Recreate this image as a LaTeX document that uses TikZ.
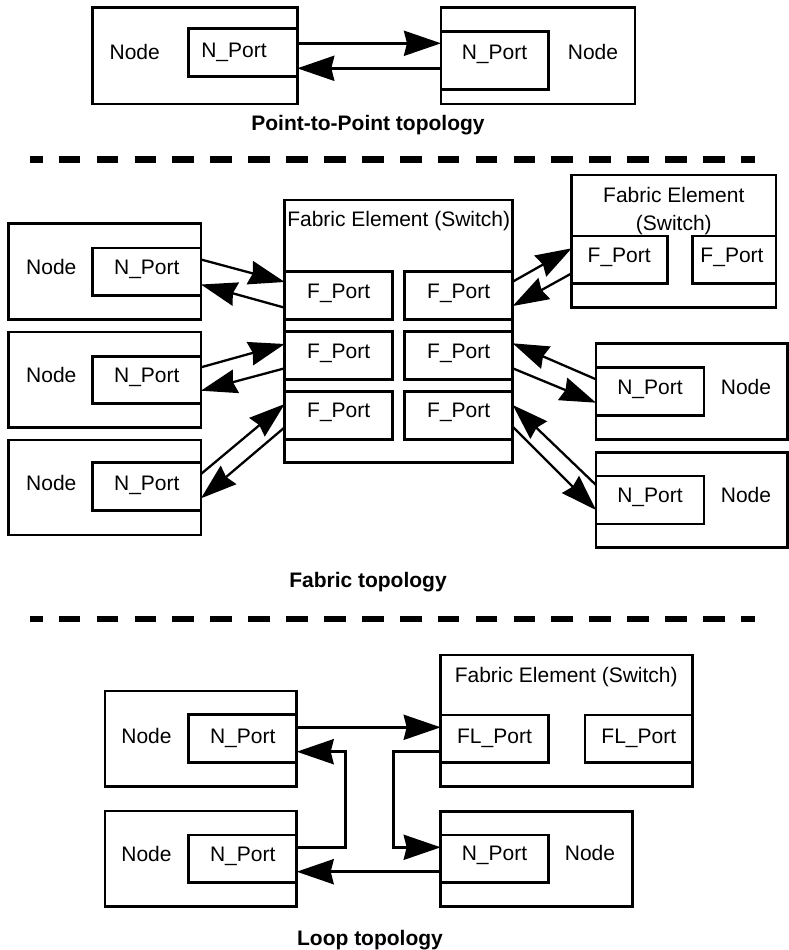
\documentclass[tikz,border=0pt]{standalone}
\usepackage{fontspec}
\setmainfont{Liberation Sans}
\usetikzlibrary{arrows.meta}
\newcommand{\bbox}[5]{\node[box, minimum width={#4-#2}, minimum height={#5-#3}] (#1) at ({(#2+#4)/2},{(#3+#5)/2}) {};}
\begin{document}
\begin{tikzpicture}[x=1pt,y=-1pt,
  box/.style={draw,line width=2.6pt,inner sep=0pt,outer sep=0pt},
  lbl/.style={inner sep=0pt,font=\fontsize{21}{25}\selectfont,text height=15pt,text depth=0pt},
  ttl/.style={inner sep=0pt,font=\fontsize{21}{25}\selectfont\bfseries,text height=15pt,text depth=0pt},
  thinarr/.style={line width=2.3pt,-{Stealth[length=36pt,width=24pt,inset=3pt]}},
  arr/.style={line width=3pt,line join=miter,-{Stealth[length=37pt,width=25pt,inset=3pt]}},
  sep/.style={line width=6.7pt,dash pattern=on 21.7pt off 16.2pt,dash phase=9.2pt}
]
\useasboundingbox (0,0) rectangle (789,950);

% ---------- Point-to-Point ----------
\bbox{ln}{92.3}{7.3}{297.3}{104}
\bbox{lnp}{188.7}{28.7}{297.3}{76.7}
\bbox{rn}{441}{7.3}{635}{104}
\bbox{rnp}{441}{31.7}{548.3}{89.3}
\node[lbl] (t1) at (134.7,52) {Node};
\node[lbl] (t2) at (234,50) {N\_Port};
\node[lbl] (t3) at (494.5,52) {N\_Port};
\node[lbl] (t4) at (593,52) {Node};
\draw[arr] (lnp.east |- 0,43.3) -- (rnp.west |- 0,43.3);
\draw[arr] (rnp.west |- 0,68.3) -- (lnp.east |- 0,68.3);
\node[ttl] (p2p) at (368,122.7) {Point-to-Point topology};
\coordinate (d1a) at (30,159.5);
\coordinate (d1b) at (755,159.5);
\draw[sep] (d1a) -- (d1b);

% ---------- Fabric ----------
\bbox{sw}{284.7}{200}{512.7}{462.7}
\node[lbl] (swt) at (398.7,219.3) {Fabric Element (Switch)};
\bbox{fpa}{284.7}{271.7}{392.7}{319.3}
\bbox{fpb}{404.7}{271.7}{512.7}{319.3}
\bbox{fpc}{284.7}{331.7}{392.7}{379.3}
\bbox{fpd}{404.7}{331.7}{512.7}{379.3}
\bbox{fpe}{284.7}{391.7}{392.7}{439.3}
\bbox{fpf}{404.7}{391.7}{512.7}{439.3}
\node[lbl] (fta) at (338.7,291) {F\_Port};
\node[lbl] (ftb) at (458.7,291) {F\_Port};
\node[lbl] (ftc) at (338.7,351) {F\_Port};
\node[lbl] (ftd) at (458.7,351) {F\_Port};
\node[lbl] (fte) at (338.7,410) {F\_Port};
\node[lbl] (ftf) at (458.7,410) {F\_Port};

\bbox{fn1}{8.3}{223.3}{201}{319.3}
\bbox{fnp1}{92.7}{248}{201}{295.7}
\bbox{fn2}{8.3}{332}{201}{427.7}
\bbox{fnp2}{92.7}{356.7}{201}{403.3}
\bbox{fn3}{8.3}{440}{201}{535}
\bbox{fnp3}{92.7}{462.7}{201}{510.7}
\node[lbl] (fl1) at (51.3,267.3) {Node};
\node[lbl] (fl2) at (51.3,375) {Node};
\node[lbl] (fl3) at (51.3,483.3) {Node};
\node[lbl] (fp1) at (146.8,267.3) {N\_Port};
\node[lbl] (fp2) at (146.8,375) {N\_Port};
\node[lbl] (fp3) at (146.8,483.3) {N\_Port};

\bbox{ssw}{571.7}{175}{776}{307.7}
\bbox{sfp1}{571.7}{236}{667.7}{283.3}
\bbox{sfp2}{692.3}{236}{776}{283.3}
\node[lbl] (sst1) at (673.8,195) {Fabric Element};
\node[lbl] (sst2) at (673.8,223) {(Switch)};
\node[lbl] (sft1) at (619.2,255) {F\_Port};
\node[lbl] (sft2) at (732,255) {F\_Port};

\bbox{rn1}{596}{343.3}{787.3}{439.3}
\bbox{rnp1}{596}{367.7}{704}{415.3}
\bbox{rn2}{596}{452.3}{787.3}{547.5}
\bbox{rnp2}{596}{476}{704}{524}
\node[lbl] (rp1) at (650,387.3) {N\_Port};
\node[lbl] (rl1) at (746,387.3) {Node};
\node[lbl] (rp2) at (650,495) {N\_Port};
\node[lbl] (rl2) at (746,495) {Node};

\draw[thinarr] (fnp1.east |- 0,259.5) -- (sw.west |- 0,282);
\draw[thinarr] (sw.west |- 0,307.7) -- (fnp1.east |- 0,284.5);
\draw[thinarr] (fnp2.east |- 0,367.3) -- (sw.west |- 0,344);
\draw[thinarr] (sw.west |- 0,368.3) -- (fnp2.east |- 0,390.7);
\draw[thinarr] (fnp3.east |- 0,474) -- (sw.west |- 0,404);
\draw[thinarr] (sw.west |- 0,427.3) -- (fnp3.east |- 0,498.3);
\draw[thinarr] (sw.east |- 0,281.7) -- (sfp1.west |- 0,248.3);
\draw[thinarr] (sfp1.west |- 0,273.3) -- (sw.east |- 0,306);
\draw[thinarr] (rnp1.west |- 0,379.3) -- (sw.east |- 0,343.3);
\draw[thinarr] (sw.east |- 0,368.3) -- (rnp1.west |- 0,402.7);
\draw[thinarr] (rnp2.west |- 0,485) -- (sw.east |- 0,405);
\draw[thinarr] (sw.east |- 0,426.7) -- (rnp2.west |- 0,510);

\node[ttl] (fab) at (368,580) {Fabric topology};
\coordinate (d2a) at (30,619);
\coordinate (d2b) at (755,619);
\draw[sep] (d2a) -- (d2b);

% ---------- Loop ----------
\bbox{la}{105}{691}{296.7}{786.7}
\bbox{lnpA}{188.7}{714.7}{296.7}{762.7}
\bbox{lb}{105}{811}{296.7}{906.7}
\bbox{lnpB}{188.7}{835}{296.7}{882.7}
\node[lbl] (la1) at (146.5,736) {Node};
\node[lbl] (la2) at (242.7,736) {N\_Port};
\node[lbl] (lb1) at (146.5,854) {Node};
\node[lbl] (lb2) at (242.7,854) {N\_Port};

\bbox{lsw}{440.7}{655}{692.7}{786.7}
\bbox{flp1}{440.7}{715}{548.3}{762.7}
\bbox{flp2}{585}{715}{692.7}{762.7}
\node[lbl] (lswt) at (566.2,675) {Fabric Element (Switch)};
\node[lbl] (flt1) at (494.5,736) {FL\_Port};
\node[lbl] (flt2) at (638.8,736) {FL\_Port};

\bbox{lr}{440.7}{811.7}{632.7}{906.7}
\bbox{rnpL}{440.7}{835}{548.3}{882.7}
\node[lbl] (lr1) at (494.5,853.3) {N\_Port};
\node[lbl] (lr2) at (590,853.3) {Node};

\draw[arr] (lnpA.east |- 0,727.3) -- (flp1.west |- 0,727.3);
\draw[arr] (lnpB.east |- 0,847.3) -- (345,847.3) -- (345,751.7) -- (lnpA.east |- 0,751.7);
\draw[arr] (flp1.west |- 0,751.7) -- (393,751.7) -- (393,847.3) -- (rnpL.west |- 0,847.3);
\draw[arr] (rnpL.west |- 0,871.7) -- (lnpB.east |- 0,871.7);

\node[ttl] (loop) at (370,938) {Loop topology};
\end{tikzpicture}
\end{document}
